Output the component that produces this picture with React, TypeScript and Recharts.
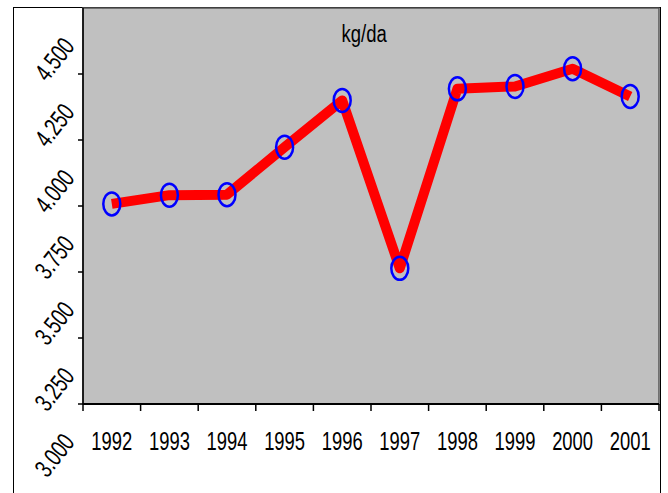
import { LineChart, Line, XAxis, YAxis, ReferenceArea } from 'recharts'

const years = ['1992', '1993', '1994', '1995', '1996', '1997', '1998', '1999', '2000', '2001']
const yields = [4.008, 4.041, 4.043, 4.223, 4.4, 3.764, 4.444, 4.453, 4.52, 4.415]
const yTicks = [3.0, 3.25, 3.5, 3.75, 4.0, 4.25, 4.5]
const yDomain = [3.25, 4.75]
const unitLabel = 'kg/da'

const data = years.map((year, i) => ({ year, value: yields[i] }))

const FONT = '"Liberation Sans", Arial, sans-serif'

const YTick = (props: any) => {
  const { x, y, payload } = props
  const v = payload.value as number
  const cx = x - 24
  const cy = y - 15
  return (
    <g>
      {v >= yDomain[0] && <line x1={x} x2={x + 5} y1={y} y2={y} stroke="#000" strokeWidth={1.5} />}
      <text
        transform={`translate(${cx},${cy}) rotate(-52) scale(1,1.4)`}
        textAnchor="middle"
        dy="0.36em"
        fontFamily={FONT}
        fontSize={18.4}
        fill="#000"
      >
        {v.toFixed(3)}
      </text>
    </g>
  )
}

// labels sit in the middle of each band, tick marks on the band edges
const XTick = (props: any) => {
  const { x, y, payload, index } = props
  const half = payload.offset ?? 0
  const last = index === years.length - 1
  return (
    <g>
      <line x1={x - half} x2={x - half} y1={y} y2={y + 7} stroke="#000" strokeWidth={1.5} />
      {last && <line x1={x + half} x2={x + half} y1={y} y2={y + 7} stroke="#000" strokeWidth={1.5} />}
      <text
        transform={`translate(${x},${y + 37}) scale(1,1.4)`}
        textAnchor="middle"
        dy="0.36em"
        fontFamily={FONT}
        fontSize={18.4}
        fill="#000"
      >
        {payload.value}
      </text>
    </g>
  )
}

const Dot = (props: any) => {
  const { cx, cy, index } = props
  return <ellipse key={index} cx={cx} cy={cy} rx={8.5} ry={11.5} fill="none" stroke="#0000ff" strokeWidth={2.5} />
}

const TitleLabel = (props: any) => {
  const { viewBox } = props
  const x = viewBox.x + viewBox.width * 0.488
  return (
    <text
      transform={`translate(${x},${viewBox.y + 25}) scale(1,1.3)`}
      textAnchor="middle"
      dy="0.36em"
      fontFamily={FONT}
      fontSize={18.5}
      fill="#000"
    >
      {unitLabel}
    </text>
  )
}

const App = () => {
  return (
    <div style={{ position: 'absolute', left: 0, top: 0, width: 668, height: 493, overflow: 'hidden', background: '#fff' }}>
      <div
        style={{
          position: 'absolute',
          left: 13,
          top: 7,
          width: 646,
          height: 486,
          borderLeft: '1.5px solid #000',
          borderTop: '1.5px solid #000',
          borderRight: '1.5px solid #000',
        }}
      />
      <div style={{ position: 'absolute', left: 0, top: 0 }}>
        <LineChart width={668} height={493} data={data} margin={{ top: 8, right: 9, left: 0, bottom: 0 }}>
          <XAxis
            dataKey="year"
            scale="band"
            height={89}
            axisLine={{ stroke: '#000', strokeWidth: 2 }}
            tickLine={false}
            tickSize={0}
            tickMargin={0}
            interval={0}
            tick={<XTick />}
          />
          <YAxis
            type="number"
            domain={yDomain}
            allowDataOverflow
            ticks={yTicks}
            interval={0}
            width={83}
            tickSize={5}
            tickMargin={0}
            tickLine={false}
            axisLine={{ stroke: '#000', strokeWidth: 1.5 }}
            tick={<YTick />}
          />
          <ReferenceArea
            y1={yDomain[0]}
            y2={yDomain[1]}
            fill="#c0c0c0"
            fillOpacity={1}
            stroke="#555"
            strokeWidth={1.5}
            label={<TitleLabel />}
          />
          <Line
            type="linear"
            dataKey="value"
            stroke="#ff0000"
            strokeWidth={10}
            strokeLinejoin="round"
            dot={Dot}
            activeDot={false}
            isAnimationActive={false}
          />
        </LineChart>
      </div>
    </div>
  )
}

export default App
